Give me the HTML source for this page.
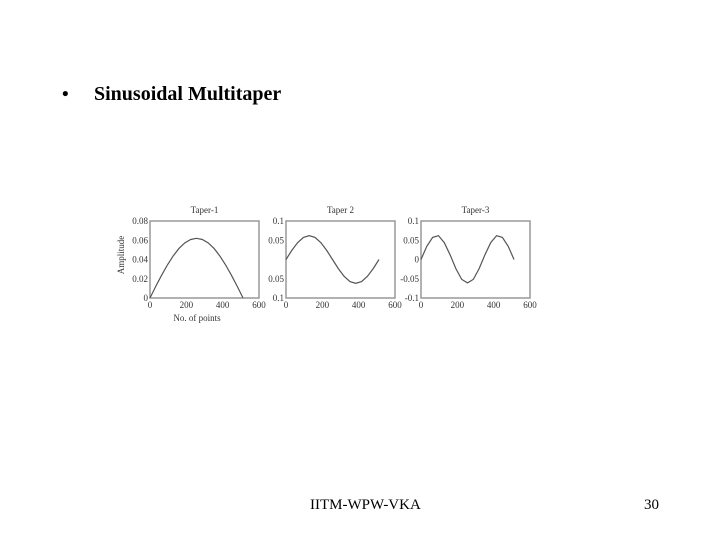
<!DOCTYPE html>
<html><head><meta charset="utf-8"><style>
body{margin:0;width:720px;height:540px;background:#fff;font-family:"Liberation Serif",serif;overflow:hidden;position:relative}
.t{position:absolute}
</style></head><body>
<div class="t" style="left:62px;top:84px;font-size:19px;font-weight:bold;">•</div>
<div class="t" style="left:94px;top:83px;font-size:20px;font-weight:bold;">Sinusoidal Multitaper</div>
<div class="t" style="left:310px;top:497px;font-size:15px;">IITM-WPW-VKA</div>
<div class="t" style="left:644px;top:497px;font-size:15px;">30</div>
<svg id="chart" width="720" height="540" style="position:absolute;left:0;top:0" font-family="Liberation Serif, serif" font-size="9" fill="#333"></svg>
<script>
const xs=[0,32,64,96,128,160,192,224,256,288,320,352,384,416,448,480,512];
const taper1=[0,0.0122,0.0237,0.0344,0.0438,0.0516,0.0573,0.0608,0.062,0.0608,0.0573,0.0516,0.0438,0.0344,0.0237,0.0122,0];
const taper2=[0,0.0237,0.0438,0.0573,0.062,0.0573,0.0438,0.0237,0,-0.0237,-0.0438,-0.0573,-0.062,-0.0573,-0.0438,-0.0237,0];
const taper3=[0,0.0344,0.0573,0.062,0.0438,0.0122,-0.0237,-0.0516,-0.0608,-0.0516,-0.0237,0.0122,0.0438,0.062,0.0573,0.0344,0];
const titles=["Taper-1","Taper 2","Taper-3"];
const xTicks=[0,200,400,600];
const yTicks1=[0,0.02,0.04,0.06,0.08];
const yLabels1=["0","0.02","0.04","0.06","0.08"];
const yTicks2=[-0.1,-0.05,0.05,0.1];
const yLabels2=["0.1","0.05","0.05","0.1"];
const yTicks3=[-0.1,-0.05,0,0.05,0.1];
const yLabels3=["-0.1","-0.05","0","0.05","0.1"];
const svg=document.getElementById('chart');
const NS='http://www.w3.org/2000/svg';
function mk(tag,attrs,parent){const e=document.createElementNS(NS,tag);for(const k in attrs)e.setAttribute(k,attrs[k]);(parent||svg).appendChild(e);return e;}
const panels=[
 {x0:150,data:taper1,ymin:0,ymax:0.08,yt:yTicks1,yl:yLabels1},
 {x0:286,data:taper2,ymin:-0.1,ymax:0.1,yt:yTicks2,yl:yLabels2},
 {x0:421,data:taper3,ymin:-0.1,ymax:0.1,yt:yTicks3,yl:yLabels3}];
const plotTop=221,plotBot=298,plotW=109;
panels.forEach((p,i)=>{
 const g=mk('g',{});
 
 
 const sx=v=>p.x0+v/600*plotW;
 const sy=v=>plotBot-(v-p.ymin)/(p.ymax-p.ymin)*(plotBot-plotTop);
 const r=mk('rect',{x:p.x0,y:plotTop,width:plotW,height:plotBot-plotTop,fill:'none',stroke:'#999','stroke-width':1.5},g);
 
 
 const t=mk('text',{x:p.x0+plotW/2,y:plotTop-8,'text-anchor':'middle'},g);t.textContent=titles[i];
 
 
 xTicks.forEach(v=>{const tx=mk('text',{x:sx(v),y:plotBot+10,'text-anchor':'middle'},g);tx.textContent=v;
  
  });
 p.yt.forEach((v,j)=>{const ty=mk('text',{x:p.x0-2,y:sy(v)+3,'text-anchor':'end'},g);ty.textContent=p.yl[j];
  
  });
 const pts=xs.map((x,k)=>sx(x)+','+sy(p.data[k])).join(' ');
 const l=mk('polyline',{points:pts,fill:'none',stroke:'#555','stroke-width':1.2},g);
 
 
});
const xl=mk('text',{x:197,y:321,'text-anchor':'middle'});xl.textContent='No. of points';


const yl=mk('text',{x:0,y:0,'text-anchor':'middle',transform:'translate(124,255) rotate(-90)'});yl.textContent='Amplitude';


</script>
</body></html>
